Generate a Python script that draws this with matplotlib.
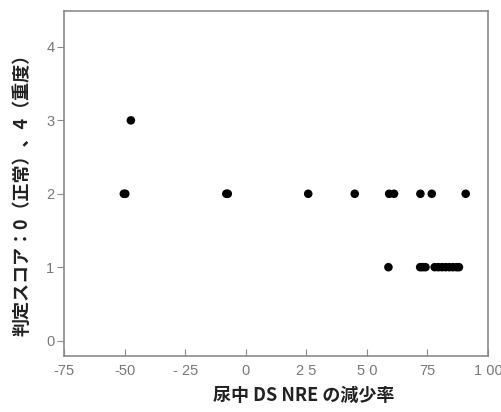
import matplotlib
matplotlib.use("Agg")
import matplotlib.pyplot as plt

plt.rcParams['font.family'] = ['Noto Sans CJK JP', 'DejaVu Sans']

# Reduction rate of urinary DS NRE (%) and judged score
reduction = [-47.4, -50.3, -49.7, -8.0, -7.4, 25.8, 45.0, 59.2, 61.2, 72.1, 76.8, 90.8,
             58.9, 72.0, 73.0, 74.2, 78.0, 79.5, 81.0, 82.5, 84.0, 85.5, 87.0, 88.0]
score = [3, 2, 2, 2, 2, 2, 2, 2, 2, 2, 2, 2,
         1, 1, 1, 1, 1, 1, 1, 1, 1, 1, 1, 1]

x_ticks = [-75, -50, -25, 0, 25, 50, 75, 100]
x_tick_labels = ['-75', '-50', '- 25', '0', '2 5', '5 0', '75', '1 00']
y_ticks = [0, 1, 2, 3, 4]

fig = plt.figure(figsize=(5.02, 4.12), dpi=100)
ax = fig.add_axes([64 / 502, 1 - 356 / 412, (488 - 64) / 502, (356 - 11) / 412])

ax.scatter(reduction, score, s=38, color='black', edgecolors='none', zorder=3)

ax.set_xlim(-75, 100)
ax.set_ylim(-0.21, 4.49)
ax.set_xticks(x_ticks)
ax.set_xticklabels(x_tick_labels)
ax.set_yticks(y_ticks)

gray = '#8a8a8a'
for sp in ax.spines.values():
    sp.set_color(gray)
    sp.set_linewidth(1.2)
ax.tick_params(axis='x', direction='in', length=5, color=gray, labelcolor='#777777',
               labelsize=10.5, pad=6)
ax.tick_params(axis='y', direction='out', length=5, color=gray, labelcolor='#777777',
               labelsize=10.5, pad=2)
for lab in ax.get_xticklabels() + ax.get_yticklabels():
    lab.set_family(['Liberation Sans', 'DejaVu Sans'])

fig.text(304 / 502, 1 - 395 / 412, '尿中 DS NRE の減少率', ha='center', va='center',
         fontsize=13, fontweight='bold', color='#222222')
fig.text(22 / 502, 1 - 190 / 412, '判定スコア：0（正常）、4（重度）', ha='center', va='center',
         rotation=90, fontsize=13, fontweight='bold', color='#222222')

fig.savefig('out.png', dpi=100)
